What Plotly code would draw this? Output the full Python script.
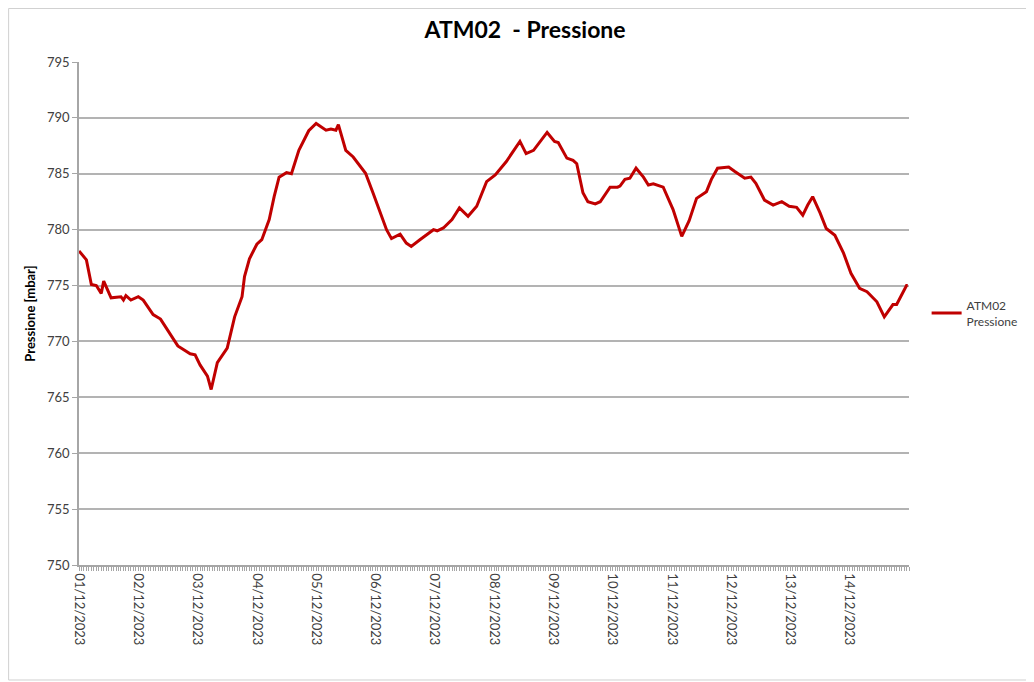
import plotly.graph_objects as go
import pandas as pd

start = "2023-12-01 00:00"
hours = [0, 3, 5, 7, 9, 10, 13, 17, 18, 19, 21, 24, 26, 30, 33, 35.5, 40, 45, 47, 49,
         52, 53.5, 56, 60, 63, 66, 67, 69, 72, 74, 77, 79, 81, 84, 86, 89, 93, 96, 100, 102,
         104, 105, 108, 111, 116, 119, 122.5, 124.5, 126.5, 130, 132.5, 134.5, 138, 143.5, 145, 147.5, 151, 154, 157.5, 161,
         165, 168.5, 173, 178.5, 181, 184, 189.5, 192.5, 194, 197.5, 200, 201.5, 204, 206, 209, 211, 215, 218, 219, 221,
         223, 225.5, 228.5, 230.5, 232.5, 236.5, 240.5, 244, 247, 250, 254, 256, 258.5, 263, 265.5, 269.5, 272, 274, 277.5, 281,
         284.5, 287.5, 290.5, 293, 295, 297, 300, 302.5, 306, 309.5, 312.5, 316, 319, 323, 326, 329.5, 331, 335, 335.5]
pressure = [778.1, 777.3, 775.1, 775.0, 774.3, 775.4, 773.9, 774.0, 773.7, 774.1, 773.7, 774.0, 773.7, 772.4, 772.0, 771.1, 769.6, 768.9, 768.8, 767.9,
            766.9, 765.7, 768.1, 769.4, 772.2, 774.0, 775.8, 777.4, 778.7, 779.1, 780.9, 782.95, 784.7, 785.1, 785.0, 787.1, 788.85, 789.5, 788.9, 789.0,
            788.9, 789.4, 787.1, 786.5, 785.05, 783.3, 781.3, 780.0, 779.2, 779.6, 778.8, 778.5, 779.1, 780.0, 779.9, 780.15, 780.9, 781.95, 781.2, 782.1,
            784.3, 784.9, 786.1, 787.9, 786.8, 787.1, 788.7, 787.9, 787.8, 786.4, 786.2, 785.9, 783.3, 782.5, 782.3, 782.5, 783.8, 783.8, 783.9, 784.5,
            784.6, 785.5, 784.7, 784.0, 784.1, 783.8, 781.8, 779.4, 780.8, 782.8, 783.4, 784.5, 785.5, 785.6, 785.2, 784.6, 784.7, 784.15, 782.65, 782.2,
            782.5, 782.1, 782.0, 781.3, 782.2, 782.95, 781.5, 780.1, 779.5, 777.9, 776.1, 774.75, 774.45, 773.55, 772.2, 773.3, 773.3, 775.0, 775.0]

tick_dates = ["2023-12-%02d" % d for d in range(1, 15)]
tick_labels = ["%02d/12/2023" % d for d in range(1, 15)]
y_ticks = [750, 755, 760, 765, 770, 775, 780, 785, 790, 795]

times = pd.Timestamp(start) + pd.to_timedelta(hours, unit="h")

FONT = "Lato, 'Open Sans', sans-serif"

fig = go.Figure()
fig.add_trace(go.Scatter(
    x=times, y=pressure, mode="lines",
    name="ATM02<br>Pressione",
    line=dict(color="#C00000", width=3, shape="linear"),
))

fig.update_layout(
    width=1026, height=674,
    paper_bgcolor="white", plot_bgcolor="white",
    margin=dict(l=71, r=124, t=54, b=117),
    title=dict(text="<b>ATM02  - Pressione</b>", x=0.504, xanchor="center",
               y=0.967, yanchor="middle",
               font=dict(family=FONT, size=23, color="#000000")),
    font=dict(family=FONT, size=12, color="#404040"),
    showlegend=True,
    legend=dict(x=1.02, xanchor="left", y=0.5, yanchor="middle",
                font=dict(family=FONT, size=12, color="#404040"),
                bgcolor="rgba(0,0,0,0)", itemwidth=30),
    shapes=[dict(type="rect", xref="paper", yref="paper",
                 x0=-0.0848, x1=1.2, y0=-0.2286, y1=1.1064,
                 line=dict(color="#D0D0D0", width=1), layer="below")],
)

fig.update_yaxes(
    range=[750, 795], tickvals=y_ticks,
    showgrid=True, gridcolor="#B3B3B3", gridwidth=1.5,
    showline=True, linecolor="#A6A6A6", linewidth=1.5,
    ticks="outside", ticklen=5, tickcolor="#A6A6A6",
    zeroline=False,
    title=dict(text="<b>Pressione [mbar]</b>", standoff=8,
               font=dict(family=FONT, size=13, color="#000000")),
    tickfont=dict(family=FONT, size=13, color="#404040"),
)

fig.update_xaxes(
    range=["2023-12-01 00:00", "2023-12-15 00:00"],
    tickvals=tick_dates, ticktext=tick_labels, tickangle=90,
    showgrid=False, zeroline=False,
    showline=True, linecolor="#A6A6A6", linewidth=1.5,
    ticks="outside", ticklen=4, tickcolor="#A6A6A6",
    minor=dict(dtick=3600000, ticks="outside", ticklen=4, tickcolor="#A6A6A6", showgrid=False),
    tickfont=dict(family=FONT, size=13, color="#404040"),
)

fig.write_html("out.html")
